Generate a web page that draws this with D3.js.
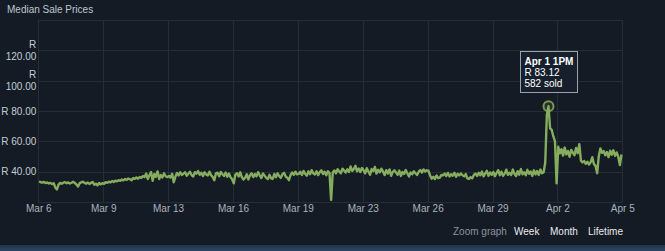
<!DOCTYPE html>
<html>
<head>
<meta charset="utf-8">
<script src="https://cdnjs.cloudflare.com/ajax/libs/d3/7.8.5/d3.min.js"></script>
<style>
    html, body { margin: 0; padding: 0; background: #141b25; }
    svg { display: block; font-family: 'Liberation Sans', Arial, sans-serif; }
</style>
</head>
<body>
<div id="chart-container"></div>
<script>
//data
var chartTitle = 'Median Sale Prices';

//first point is Mar 6 09:00, one median every 2 hours
var priceStart = Date.UTC(2024, 2, 6, 9),
    priceStepHours = 2;

var medianPrices = [
    33.6, 33.0, 32.8, 33.2, 32.5, 32.9, 32.2, 32.6, 31.8, 32.4,
    29.5, 28.3, 31.5, 32.6, 32.0, 32.8, 33.1, 32.4, 32.9, 32.2,
    32.7, 33.3, 32.5, 31.6, 30.2, 32.4, 32.9, 33.4, 32.6, 32.1,
    32.8, 31.9, 32.6, 33.2, 31.4, 32.1, 31.0, 32.5, 31.6, 32.4,
    32.0, 33.1, 32.6, 33.4, 32.9, 33.8, 33.2, 34.1, 33.6, 34.4,
    34.0, 34.8, 34.3, 35.2, 34.6, 35.5, 35.0, 34.4, 35.8, 35.3,
    36.1, 35.4, 36.5, 35.9, 37.2, 36.4, 38.8, 35.2, 37.6, 39.8,
    34.0, 38.5, 36.6, 40.2, 35.1, 37.8, 36.2, 38.9, 37.0, 36.4,
    37.2, 36.1, 38.6, 33.0, 36.6, 39.1, 37.5, 39.6, 37.8, 38.7,
    39.6, 37.3, 38.6, 40.0, 37.8, 36.8, 39.7, 38.7, 40.4, 37.9,
    39.3, 37.1, 39.6, 38.2, 37.5, 40.0, 37.7, 36.5, 34.4, 38.9,
    39.3, 36.9, 39.8, 38.3, 37.1, 39.4, 36.6, 38.8, 36.3, 35.0,
    32.3, 38.1, 39.0, 36.8, 39.6, 36.3, 34.8, 36.0, 38.3, 34.9,
    37.6, 38.9, 36.4, 38.5, 36.9, 39.7, 37.6, 35.8, 38.8, 37.4,
    35.9, 35.1, 37.9, 35.6, 35.2, 38.5, 36.3, 38.9, 37.1, 35.9,
    38.3, 39.2, 36.8, 35.9, 34.4, 37.8, 39.5, 37.9, 40.0, 38.2,
    38.5, 39.9, 37.8, 40.5, 38.6, 37.4, 40.2, 38.3, 41.0, 38.9,
    38.2, 40.3, 37.7, 39.7, 40.9, 38.4, 39.9, 37.6, 40.3, 39.2,
    21.3, 39.4, 40.8, 38.9, 41.6, 40.2, 38.9, 42.0, 40.7, 39.4,
    41.6, 39.8, 43.4, 40.5, 41.7, 43.9, 40.2, 42.1, 39.8, 42.4,
    40.9, 38.9, 42.3, 40.1, 38.0, 41.7, 40.4, 43.1, 38.7, 41.2,
    39.6, 42.0, 40.0, 37.8, 41.0, 38.8, 41.5, 37.3, 39.8, 40.9,
    39.5, 38.0, 40.7, 37.2, 39.8, 38.5, 41.1, 39.0, 36.8, 39.5,
    38.3, 40.2, 39.0, 37.8, 40.0, 41.1, 39.4, 41.5, 40.1, 40.9,
    40.6, 37.5, 35.4, 36.6, 35.2, 37.5, 35.7, 36.1, 37.9, 37.6,
    38.7, 37.1, 39.2, 36.8, 38.3, 37.3, 39.3, 36.6, 38.6, 37.5,
    38.8, 37.6, 36.9, 38.4, 35.6, 35.2, 36.4, 35.6, 37.8, 38.7,
    37.2, 39.3, 37.6, 40.1, 36.9, 38.8, 40.6, 37.3, 39.5, 37.9,
    39.8, 37.0, 39.1, 41.0, 37.7, 40.0, 37.2, 38.7, 41.3, 37.9,
    39.2, 37.8, 41.4, 38.6, 37.1, 40.3, 38.0, 41.7, 38.3, 39.6,
    37.6, 41.2, 38.6, 40.1, 37.2, 40.9, 38.2, 40.4, 37.8, 41.4,
    38.9, 39.6, 46.0, 77.5, 83.12, 68.6, 67.5, 63.2, 60.0, 32.3,
    56.4, 52.1, 54.8, 50.6, 55.9, 51.4, 53.7, 49.8, 54.3, 52.5,
    50.9, 55.6, 52.2, 58.1, 47.3, 46.1, 47.0, 45.2, 46.6, 44.7,
    46.3, 49.5, 45.1, 43.8, 39.0, 50.2, 55.3, 52.4, 53.6, 50.8,
    52.9, 49.6, 53.8, 51.2, 54.1, 50.5, 52.7, 49.9, 44.4, 51.3
];

//highlighted point
var hoverIndex = 314,
    hoverLabel = 'Apr 1 1PM',
    hoverSold = 582;

//axes
var xStart = Date.UTC(2024, 2, 6, 8),
    xEnd = Date.UTC(2024, 3, 5, 8),
    xTickLabels = ['Mar 6', 'Mar 9', 'Mar 13', 'Mar 16', 'Mar 19', 'Mar 23', 'Mar 26', 'Mar 29', 'Apr 2', 'Apr 5'];

var yMin = 20,
    yMax = 140,
    yTickValues = [40, 60, 80, 100, 120],
    yTickLabels = ['R 40.00', 'R 60.00', 'R 80.00', 'R 100.00', 'R 120.00'],
    yGridValues = [20, 40, 60, 80, 100, 120, 140];

var zoomLinks = ['Week', 'Month', 'Lifetime'];

//containers
var chartContainer = d3.select('#chart-container'),
    chartSvg;

//sizes
var outerW = 665,
    outerH = 251,
    plot = { left: 38.3, right: 622.3, top: 20, bottom: 202 };

//scales
var xScale,
    yScale;

var lineColor = '#86ad5d',
    gridColor = '#242e3b';

function buildChart() {
    chartSvg = chartContainer.append('svg')
        .attr('width', outerW)
        .attr('height', outerH);

    chartSvg.append('rect')
        .attr('width', outerW)
        .attr('height', outerH)
        .attr('fill', '#141b25');

    var strip = chartSvg.append('defs').append('linearGradient')
        .attr('id', 'strip-grad')
        .attr('x1', 0).attr('x2', 0).attr('y1', 0).attr('y2', 1);
    strip.append('stop').attr('offset', 0).attr('stop-color', '#22324a');
    strip.append('stop').attr('offset', 1).attr('stop-color', '#2f4866');

    chartSvg.append('rect')
        .attr('y', 245)
        .attr('width', outerW)
        .attr('height', outerH - 245)
        .attr('fill', 'url(#strip-grad)');

    chartSvg.append('text')
        .attr('x', 7)
        .attr('y', 13)
        .attr('font-size', '10px')
        .attr('fill', '#bfc7cf')
        .text(chartTitle);

    var xTicks = xTickLabels.map(function(d, i) {
        return new Date(xStart + i * (xEnd - xStart) / (xTickLabels.length - 1));
    });

    //grid
    chartSvg.append('g')
        .selectAll('line')
        .data(yGridValues)
        .enter()
        .append('line')
        .attr('x1', plot.left)
        .attr('x2', plot.right)
        .attr('y1', function(d) { return Math.round(yScale(d)) + 0.5; })
        .attr('y2', function(d) { return Math.round(yScale(d)) + 0.5; })
        .attr('stroke', gridColor);

    chartSvg.append('g')
        .selectAll('line')
        .data(xTicks)
        .enter()
        .append('line')
        .attr('x1', function(d) { return Math.round(xScale(d)) + 0.5; })
        .attr('x2', function(d) { return Math.round(xScale(d)) + 0.5; })
        .attr('y1', plot.top)
        .attr('y2', plot.bottom)
        .attr('stroke', gridColor);

    //x axis
    var xAxis = d3.axisBottom(xScale)
        .tickValues(xTicks)
        .tickSize(0)
        .tickPadding(0)
        .tickFormat(function(d, i) { return xTickLabels[i]; });

    var xAxisG = chartSvg.append('g')
        .attr('transform', 'translate(0,' + 205 + ')')
        .call(xAxis);
    xAxisG.select('.domain').remove();
    xAxisG.selectAll('text')
        .attr('font-size', '10px')
        .attr('font-family', null)
        .attr('fill', '#a9b3bd');

    //y axis, long labels wrap onto two lines
    var yAxis = d3.axisLeft(yScale)
        .tickValues(yTickValues)
        .tickSize(0)
        .tickPadding(2)
        .tickFormat(function(d, i) { return yTickLabels[i]; });

    var yAxisG = chartSvg.append('g')
        .attr('transform', 'translate(' + plot.left + ',0)')
        .call(yAxis);
    yAxisG.select('.domain').remove();
    yAxisG.selectAll('text')
        .attr('font-size', '10px')
        .attr('font-family', null)
        .attr('fill', '#c2ccd5')
        .each(function(d, i) {
            var label = yTickLabels[i];
            if (label.length <= 7) return;
            var parts = label.split(' '),
                t = d3.select(this).text(null).attr('dy', null);
            t.append('tspan').attr('x', -2).attr('dy', '-0.27em').text(parts[0]);
            t.append('tspan').attr('x', -2).attr('dy', '1.2em').text(parts[1]);
        });

    //price line
    var line = d3.line()
        .x(function(d, i) { return xScale(new Date(priceStart + i * priceStepHours * 3600000)); })
        .y(function(d) { return yScale(d); });

    chartSvg.append('path')
        .datum(medianPrices)
        .attr('d', line)
        .attr('fill', 'none')
        .attr('stroke', lineColor)
        .attr('stroke-width', 2.4)
        .attr('stroke-linejoin', 'round');

    //highlight + tooltip
    var hx = xScale(new Date(priceStart + hoverIndex * priceStepHours * 3600000)),
        hy = yScale(medianPrices[hoverIndex]);

    chartSvg.append('circle')
        .attr('cx', hx)
        .attr('cy', hy)
        .attr('r', 5)
        .attr('fill', lineColor)
        .attr('fill-opacity', 0.15)
        .attr('stroke', lineColor)
        .attr('stroke-opacity', 0.85)
        .attr('stroke-width', 2);

    var tipW = 57,
        tipH = 41,
        tipG = chartSvg.append('g')
            .attr('transform', 'translate(' + Math.round(hx - tipW / 2) + ',' + Math.round(hy - 14 - tipH) + ')');

    tipG.append('rect')
        .attr('x', 0.5)
        .attr('y', 0.5)
        .attr('width', tipW)
        .attr('height', tipH)
        .attr('fill', '#161f2b')
        .attr('stroke', '#9aa3ab');

    var tipLines = [hoverLabel, 'R ' + medianPrices[hoverIndex].toFixed(2), hoverSold + ' sold'];
    tipG.selectAll('.tip-text')
        .data(tipLines)
        .enter()
        .append('text')
        .attr('class', 'tip-text')
        .attr('x', 4.5)
        .attr('y', function(d, i) { return 13.5 + i * 11; })
        .attr('font-size', '10px')
        .attr('font-weight', function(d, i) { return i == 0 ? 'bold' : 'normal'; })
        .attr('fill', '#ffffff')
        .text(function(d) { return d; });

    //zoom links
    var zoomG = chartSvg.append('g')
        .attr('transform', 'translate(0,235)');

    zoomG.append('text')
        .attr('x', 453)
        .attr('font-size', '10px')
        .attr('fill', '#8b949d')
        .text('Zoom graph');

    var linkX = [514, 550, 588];
    zoomG.selectAll('.zoom-link')
        .data(zoomLinks)
        .enter()
        .append('text')
        .attr('class', 'zoom-link')
        .attr('x', function(d, i) { return linkX[i]; })
        .attr('font-size', '10px')
        .attr('fill', '#e6ebef')
        .text(function(d) { return d; });
}

function setupChart() {
    xScale = d3.scaleUtc().domain([new Date(xStart), new Date(xEnd)]).range([plot.left, plot.right]);
    yScale = d3.scaleLinear().domain([yMin, yMax]).range([plot.bottom, plot.top]);

    buildChart();
}

setupChart();
</script>
</body>
</html>
